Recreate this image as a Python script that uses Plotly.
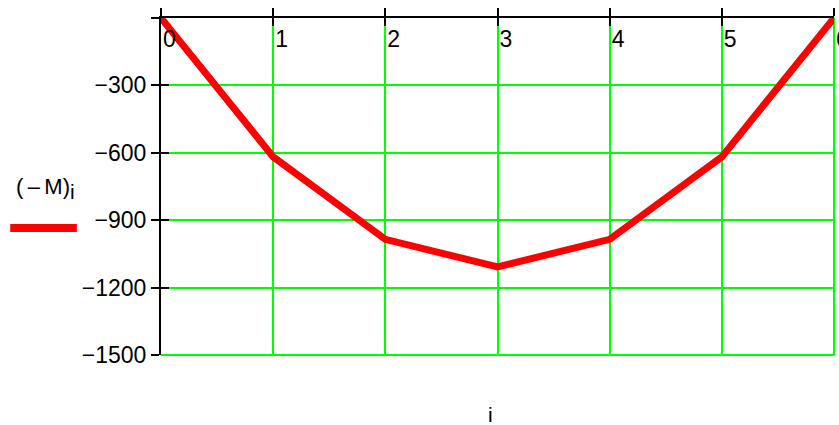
import plotly.graph_objects as go

# Bending moment (negated) at stations i = 0..6
i_vals = [0, 1, 2, 3, 4, 5, 6]
neg_m = [0, -618, -985, -1108, -985, -618, 0]

x_ticks = [0, 1, 2, 3, 4, 5, 6]
y_ticks = [0, -300, -600, -900, -1200, -1500]
y_labels = ["" if v == 0 else "\u2212" + str(abs(v)) for v in y_ticks]

FONT = "Arial, Liberation Sans, sans-serif"
GREEN = "#00ff00"

fig = go.Figure()

fig.add_trace(go.Scatter(
    x=i_vals, y=neg_m, mode="lines",
    line=dict(color="#ff0000", width=7),
    cliponaxis=False, showlegend=False, hoverinfo="skip",
))

# invisible trace carrying the overlay axes (inward half of the crossing ticks)
fig.add_trace(go.Scatter(
    x=[i_vals[0]], y=[neg_m[0]], xaxis="x2", yaxis="y2",
    mode="markers", marker=dict(opacity=0), showlegend=False, hoverinfo="skip",
))

tick_style = dict(ticklen=8, tickwidth=2, tickcolor="black")

fig.update_layout(
    width=839, height=425,
    margin=dict(l=161, r=5, t=18, b=70, autoexpand=False),
    paper_bgcolor="white", plot_bgcolor="white",
    font=dict(family=FONT, color="black"),
    xaxis=dict(
        range=[0, 6], side="top", automargin=False,
        tickvals=x_ticks, ticktext=[str(v) for v in x_ticks],
        ticks="outside", ticklabelposition="inside right",
        ticklabelstandoff=12, ticklabelshift=0, ticklabeloverflow="allow",
        tickfont=dict(size=23, family=FONT, color="black"),
        showgrid=True, gridcolor=GREEN, gridwidth=2,
        showline=True, linecolor="black", linewidth=2,
        zeroline=False, **tick_style,
    ),
    yaxis=dict(
        range=[-1500, 0], automargin=False,
        tickvals=y_ticks, ticktext=y_labels,
        ticks="outside",
        tickfont=dict(size=23, family=FONT, color="black"),
        showgrid=True, gridcolor=GREEN, gridwidth=2,
        showline=True, linecolor="black", linewidth=2,
        zeroline=False, **tick_style,
    ),
    xaxis2=dict(
        overlaying="x", range=[0, 6], side="top", automargin=False,
        tickvals=x_ticks, ticks="inside", showticklabels=False,
        showgrid=False, zeroline=False, showline=False, **tick_style,
    ),
    yaxis2=dict(
        overlaying="y", range=[-1500, 0], side="left", automargin=False,
        tickvals=y_ticks, ticks="inside", showticklabels=False,
        showgrid=False, zeroline=False, showline=False, **tick_style,
    ),
    showlegend=False,
)

# green frame on the far edges of the grid
fig.add_shape(type="line", xref="paper", yref="paper", x0=1, x1=1, y0=0, y1=1,
              line=dict(color=GREEN, width=2), layer="below")
fig.add_shape(type="line", xref="paper", yref="paper", x0=0, x1=1, y0=0, y1=0,
              line=dict(color=GREEN, width=2), layer="below")

# x-axis name below the plot
fig.add_annotation(
    text="i", xref="paper", yref="paper", x=0.489, y=-0.178,
    xanchor="center", yanchor="middle",
    showarrow=False, font=dict(size=21, family=FONT, color="black"),
)

# legend entry: series name above a line sample
fig.add_annotation(
    text="(\u2009\u2013\u2009M)<sub><span style='font-size:21px'>i</span></sub>",
    xref="paper", yref="paper",
    x=-0.171, y=0.445, xanchor="center", yanchor="bottom",
    showarrow=False, font=dict(size=22, family=FONT, color="black"),
)
fig.add_shape(
    type="line", xref="paper", yref="paper",
    x0=-0.224, x1=-0.125, y0=0.377, y1=0.377,
    line=dict(color="#ff0000", width=8),
)

fig.write_html("out.html")
